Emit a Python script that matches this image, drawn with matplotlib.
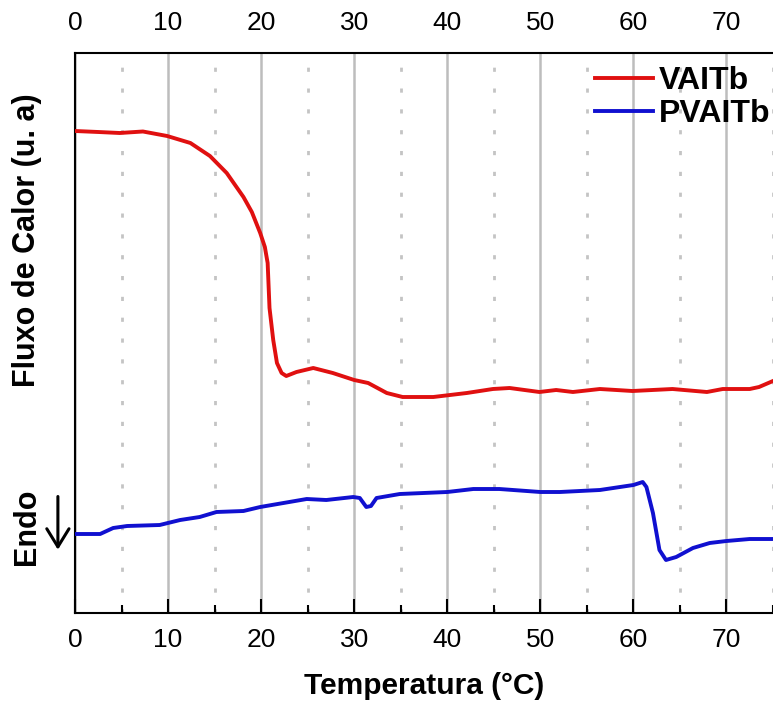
import matplotlib
matplotlib.use("Agg")
import matplotlib.pyplot as plt
from matplotlib.ticker import MultipleLocator

plt.rcParams['font.family'] = ['Liberation Sans', 'DejaVu Sans']

# VAITb curve (temperature in C, heat flow in arbitrary units)
temp_vaitb = [0, 2.5, 4.8, 7.3, 9.9, 12.4, 14.5, 16.3, 18.1, 19.0, 19.9, 20.4, 20.7, 20.9, 21.3,
              21.7, 22.2, 22.7, 23.8, 25.6, 27.7, 30.0, 31.5, 33.5, 35.2, 38.5, 42.1, 44.9,
              46.7, 49.9, 51.7, 53.5, 56.4, 59.9, 64.2, 67.9, 69.6, 72.5, 73.5, 75]
flux_vaitb = [482, 481, 480, 481.5, 477, 470, 457, 440, 416, 401, 380, 366, 350, 305, 273,
              250, 240, 237, 241, 245, 240, 233, 230, 220, 216, 216, 220, 224,
              225, 221, 223, 221, 224, 222, 224, 221, 224, 224, 226, 232]

# PVAITb curve
temp_pvaitb = [0, 2.7, 4.1, 5.6, 9.1, 11.3, 13.4, 15.2, 18.1, 19.9, 22.4, 24.9, 27.0, 29.9,
               30.6, 31.3, 31.8, 32.4, 34.9, 40.0, 42.8, 45.6, 50.0, 52.1, 56.4, 60.0, 61.0,
               61.4, 62.1, 62.8, 63.5, 64.6, 66.4, 68.2, 70.0, 72.5, 75]
flux_pvaitb = [79, 79, 85, 87, 88, 93, 96, 101, 102, 106, 110, 114, 113, 116,
               115, 106, 107, 115, 119, 121, 124, 124, 121, 121, 123, 128, 131,
               126, 100, 63, 53, 56, 65, 70, 72, 74, 74]

fig = plt.figure(figsize=(7.73, 7.04), dpi=100)
ax = fig.add_axes([75 / 773, 1 - 613 / 704, 698 / 773, 560 / 704])

ax.plot(temp_vaitb, flux_vaitb, color='#e01010', lw=2.8, label='VAITb', zorder=3,
        solid_joinstyle='round')
ax.plot(temp_pvaitb, flux_pvaitb, color='#1010d0', lw=2.8, label='PVAITb', zorder=3,
        solid_joinstyle='round')

ax.set_xlim(0, 75)
ax.set_ylim(0, 560)
ax.xaxis.set_major_locator(MultipleLocator(10))
ax.xaxis.set_minor_locator(MultipleLocator(5))
ax.set_yticks([])

ax.grid(which='major', axis='x', color='#bdbdbd', lw=1.8, zorder=1)
ax.grid(which='minor', axis='x', color='#c4c4c4', lw=2, ls=(0, (1.5, 6)), zorder=1)

ax.tick_params(axis='x', which='major', direction='in', length=10, width=1.5,
               labelsize=19, top=False, pad=11)
ax.tick_params(axis='x', which='minor', direction='in', length=6, width=1.5, top=False)
ax.spines['right'].set_visible(False)
for s in ['left', 'top', 'bottom']:
    ax.spines[s].set_linewidth(1.5)

# top axis: labels only
top = ax.twiny()
top.set_xlim(ax.get_xlim())
top.xaxis.set_major_locator(MultipleLocator(10))
top.tick_params(axis='x', length=0, labelsize=19, pad=13)
for s in top.spines.values():
    s.set_visible(False)

ax.set_xlabel('Temperatura (°C)', fontsize=21.5, fontweight='bold', labelpad=14)
ax.text(-0.069, 0.666, 'Fluxo de Calor (u. a)', transform=ax.transAxes, rotation=90,
        ha='center', va='center', fontsize=22, fontweight='bold')
ax.text(-0.069, 0.154, 'Endo', transform=ax.transAxes, rotation=90,
        ha='center', va='center', fontsize=22, fontweight='bold')
ax.annotate('', xy=(-0.0245, 0.113), xytext=(-0.0245, 0.208), xycoords='axes fraction',
            arrowprops=dict(arrowstyle='->,head_length=1.3,head_width=0.8', lw=2.2,
                            color='black', shrinkA=0, shrinkB=0),
            annotation_clip=False)

ax.legend(loc='upper right', frameon=False, prop={'weight': 'bold', 'size': 23},
          handlelength=1.8, handletextpad=0.2, borderaxespad=0.0, labelspacing=0.1,
          bbox_to_anchor=(1.015, 1.0))

fig.savefig('out.png', dpi=100)
